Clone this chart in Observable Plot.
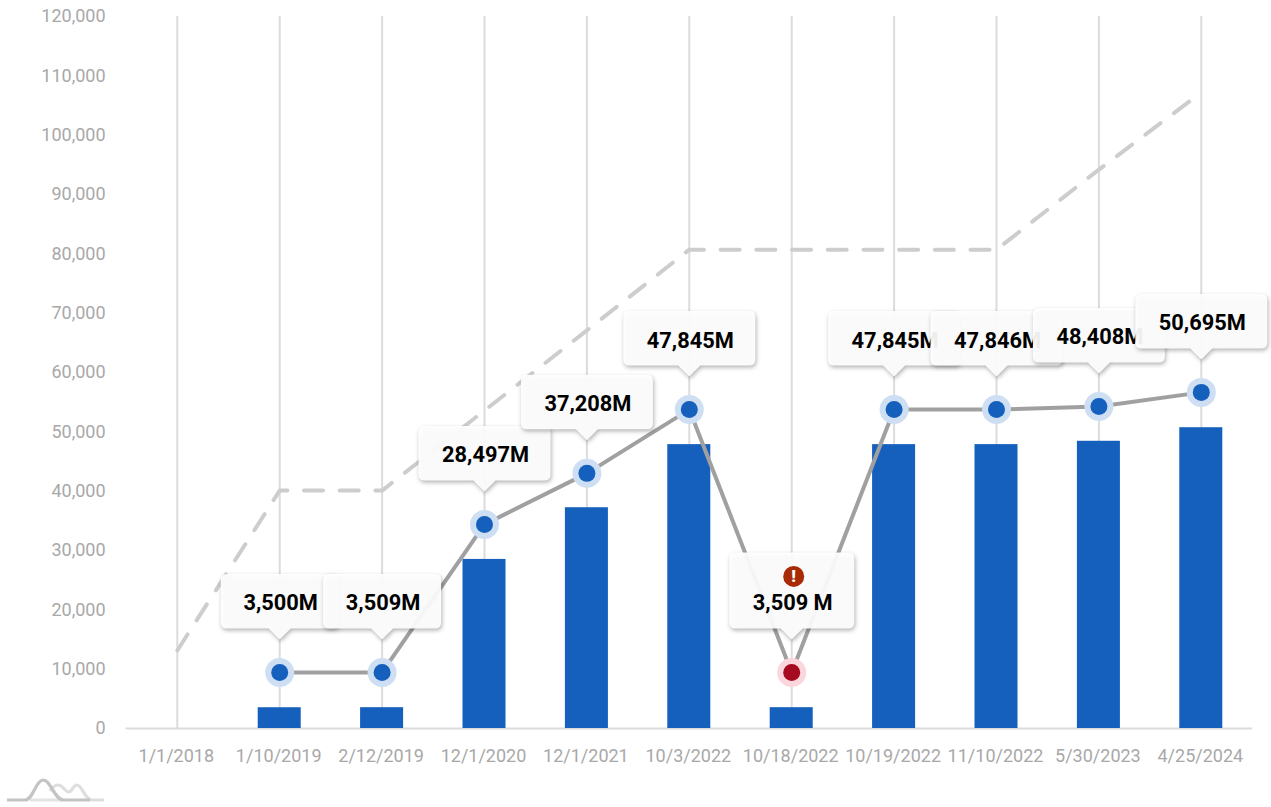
<!DOCTYPE html>
<html>
<head>
<meta charset="utf-8">
<style>
html,body{margin:0;padding:0;background:#fff;overflow:hidden}
#chart{position:relative;width:1271px;height:807px}
#chart svg.plot{display:block;opacity:0.999}
#logo{position:absolute;left:0;top:767px}
</style>
<script src="https://cdn.jsdelivr.net/npm/d3@7"></script>
<script src="https://cdn.jsdelivr.net/npm/@observablehq/plot@0.6"></script>
</head>
<body>
<div id="chart"></div>
<script>
const categories = ["1/1/2018","1/10/2019","2/12/2019","12/1/2020","12/1/2021","10/3/2022","10/18/2022","10/19/2022","11/10/2022","5/30/2023","4/25/2024"];
const barValues = [null,3500,3509,28497,37208,47845,3509,47845,47846,48408,50695];
const lineValues = [null,9450,9450,34400,43000,53750,9450,53750,53750,54270,56650];
const dashedValues = [13150,40100,40100,53600,67100,80700,80700,80700,80700,94200,107200];
const errorCategories = ["10/18/2022"];
const yTicks = [0,10000,20000,30000,40000,50000,60000,70000,80000,90000,100000,110000,120000];

const BLUE = "#1560bd", HALO = "#cedff3", RED = "#a50a20", RED_HALO = "#fbd6dc";

const rows = categories.map((c,i)=>({c,bar:barValues[i],line:lineValues[i],dash:dashedValues[i],error:errorCategories.includes(c)}));
const withValue = rows.filter(d=>d.bar!=null);

// Callout outline, relative to the data point it points at
function callout(w,h){
  const gap=44, tip=33, r=6, hw=w/2, b=-gap, t=-gap-h;
  return {draw(ctx){
    ctx.moveTo(-hw+r,t);
    ctx.lineTo(hw-r,t); ctx.quadraticCurveTo(hw,t,hw,t+r);
    ctx.lineTo(hw,b-r); ctx.quadraticCurveTo(hw,b,hw-r,b);
    ctx.lineTo(11,b); ctx.lineTo(0,-tip); ctx.lineTo(-11,b);
    ctx.lineTo(-hw+r,b); ctx.quadraticCurveTo(-hw,b,-hw,b-r);
    ctx.lineTo(-hw,t+r); ctx.quadraticCurveTo(-hw,t,-hw+r,t);
    ctx.closePath();
  }};
}

const calloutMarks = withValue.flatMap(d=>{
  const short = d.bar<10000;
  const w = d.error?125:short?118:132;
  const h = d.error?76:54.5;
  const label = d3.format(",")(d.bar)+(d.error?" M":"M");
  const marks = [
    Plot.dot([d],{x:"c",y:"line",symbol:callout(w,h),r:5,fill:"#fff",fillOpacity:0.93,stroke:"none",
      imageFilter:"drop-shadow(1px 2px 2px rgba(0,0,0,.32))"}),
    Plot.text([d],{x:"c",y:"line",text:()=>label,dx:1,dy:-69,fontSize:21.8,fontWeight:700,fill:"#000"})
  ];
  if(d.error){
    marks.push(Plot.dot([d],{x:"c",y:"line",r:10.5,dx:2,dy:-96,fill:"#a82a06"}));
    marks.push(Plot.text([d],{x:"c",y:"line",text:()=>"!",dx:2,dy:-96,fontSize:17,fontWeight:900,fill:"#fff"}));
  }
  return marks;
});

const plot = Plot.plot({
  width:1271,height:807,
  marginLeft:125.6,marginRight:19,marginTop:16,marginBottom:79,
  style:{fontFamily:"Roboto, sans-serif",background:"#fff",overflow:"visible"},
  x:{domain:categories,paddingInner:0.58,paddingOuter:0.29,round:false,label:null},
  y:{domain:[0,120000],label:null},
  marks:[
    Plot.axisY({ticks:yTicks,tickSize:0,tickPadding:20.5,fontSize:18,fill:"#a8a8a8",label:null,tickFormat:d3.format(",")}),
    Plot.axisX({tickSize:0,tickPadding:21,dx:-1,fontSize:18,fill:"#a8a8a8",label:null}),
    Plot.ruleX(categories,{stroke:"#dcdcdc",strokeWidth:2}),
    Plot.ruleY([0],{stroke:"#dcdcdc",strokeWidth:2}),
    Plot.line(rows,{x:"c",y:"dash",stroke:"#cdcdcd",strokeWidth:4,strokeDasharray:"19,16.7",curve:"linear"}),
    Plot.barY(withValue,{x:"c",y:"bar",fill:BLUE}),
    Plot.line(withValue,{x:"c",y:"line",stroke:"#a0a0a0",strokeWidth:4,curve:"linear"}),
    Plot.dot(withValue,{x:"c",y:"line",r:14.5,fill:d=>d.error?RED_HALO:HALO}),
    Plot.dot(withValue,{x:"c",y:"line",r:8.5,fill:d=>d.error?RED:BLUE}),
    ...calloutMarks
  ]
});
document.getElementById("chart").append(plot);
document.getElementById("chart").insertAdjacentHTML("beforeend",
 `<svg id="logo" width="120" height="40" viewBox="0 0 120 40" fill="none" stroke-width="3.2">
   <path d="M30 33 L62 33" stroke="#e4e4e4"/>
   <path d="M50 24 C54 18 58 17 61 19 C65 22 66 25 69 25 C72 25 73 18 77 18 C82 18 85 33 92 33 L104 33" stroke="#dedede"/>
   <path d="M7 33 L25 33 C33 33 36 13 43 13 C51 13 54 33 64 33 L90 33" stroke="#c4c4c4"/>
  </svg>`);
</script>
</body>
</html>
